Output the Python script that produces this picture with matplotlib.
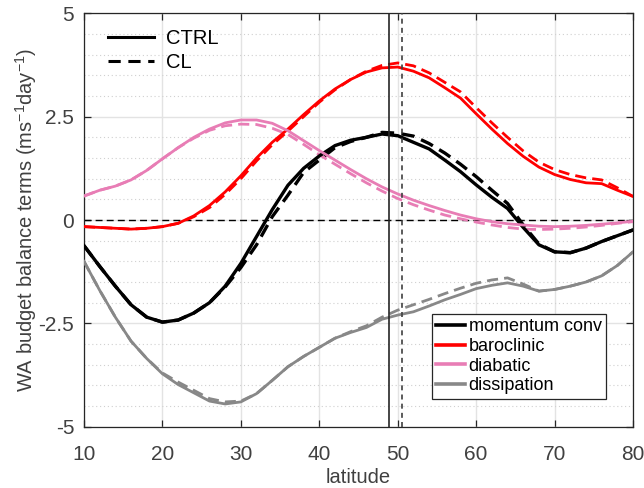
import numpy as np
import matplotlib
matplotlib.use("Agg")
import matplotlib.pyplot as plt
from matplotlib.lines import Line2D

plt.rcParams['font.family'] = ['Liberation Sans', 'DejaVu Sans']
plt.rcParams['mathtext.default'] = 'regular'

lat = np.arange(10, 81, 2)

mom_ctrl = [-0.62, -1.12, -1.6, -2.05, -2.35, -2.47, -2.42, -2.25, -2.0, -1.6,
            -1.05, -0.4, 0.25, 0.84, 1.25, 1.55, 1.8, 1.93, 2.0, 2.08,
            2.04, 1.88, 1.72, 1.45, 1.17, 0.85, 0.55, 0.28, -0.18, -0.6,
            -0.77, -0.79, -0.68, -0.52, -0.38, -0.24]
mom_cl = [-0.62, -1.12, -1.6, -2.05, -2.35, -2.47, -2.42, -2.25, -2.0, -1.62,
          -1.15, -0.6, 0.08, 0.6, 1.15, 1.45, 1.75, 1.9, 2.0, 2.12,
          2.1, 2.03, 1.85, 1.62, 1.35, 1.05, 0.72, 0.4, -0.12, -0.58,
          -0.77, -0.79, -0.68, -0.52, -0.38, -0.24]
baro_ctrl = [-0.16, -0.18, -0.2, -0.22, -0.2, -0.16, -0.08, 0.1, 0.35, 0.68,
             1.07, 1.5, 1.88, 2.2, 2.55, 2.88, 3.17, 3.4, 3.58, 3.68,
             3.7, 3.6, 3.44, 3.2, 2.95, 2.57, 2.2, 1.85, 1.54, 1.28,
             1.1, 0.98, 0.9, 0.88, 0.72, 0.57]
baro_cl = [-0.16, -0.18, -0.2, -0.22, -0.2, -0.16, -0.08, 0.08, 0.3, 0.62,
           1.0, 1.43, 1.82, 2.15, 2.5, 2.85, 3.15, 3.4, 3.6, 3.74,
           3.8, 3.73, 3.56, 3.33, 3.1, 2.72, 2.35, 2.0, 1.67, 1.4,
           1.22, 1.1, 1.02, 0.97, 0.78, 0.57]
diab_ctrl = [0.58, 0.72, 0.82, 0.97, 1.2, 1.48, 1.75, 2.0, 2.2, 2.35,
             2.42, 2.42, 2.34, 2.16, 1.92, 1.68, 1.45, 1.22, 1.0, 0.8,
             0.63, 0.48, 0.35, 0.23, 0.12, 0.03, -0.04, -0.09, -0.12, -0.15,
             -0.16, -0.15, -0.13, -0.1, -0.07, -0.03]
diab_cl = [0.58, 0.72, 0.82, 0.97, 1.2, 1.48, 1.75, 1.98, 2.17, 2.28,
           2.32, 2.31, 2.22, 2.07, 1.83, 1.58, 1.35, 1.12, 0.9, 0.7,
           0.52, 0.37, 0.24, 0.12, 0.03, -0.05, -0.12, -0.18, -0.22, -0.23,
           -0.22, -0.2, -0.17, -0.13, -0.08, -0.04]
diss_ctrl = [-1.0, -1.7, -2.35, -2.93, -3.35, -3.72, -3.98, -4.18, -4.38, -4.45,
             -4.4, -4.2, -3.88, -3.55, -3.3, -3.08, -2.86, -2.72, -2.6, -2.4,
             -2.3, -2.22, -2.08, -1.93, -1.8, -1.66, -1.58, -1.52, -1.6, -1.72,
             -1.68, -1.6, -1.5, -1.35, -1.1, -0.77]
diss_cl = [-1.0, -1.7, -2.35, -2.93, -3.35, -3.7, -3.92, -4.12, -4.32, -4.4,
           -4.38, -4.2, -3.88, -3.55, -3.3, -3.08, -2.86, -2.7, -2.56, -2.35,
           -2.18, -2.05, -1.92, -1.78, -1.65, -1.53, -1.45, -1.4, -1.55, -1.72,
           -1.68, -1.6, -1.5, -1.35, -1.1, -0.77]

ctrl_jet = 48.84
cl_jet = 50.5

names = ["momentum conv", "baroclinic", "diabatic", "dissipation"]
colours = ["black", "#ff0000", "#e87db5", "#888888"]
ctrl = [mom_ctrl, baro_ctrl, diab_ctrl, diss_ctrl]
cl = [mom_cl, baro_cl, diab_cl, diss_cl]
widths = [2.4, 2.0, 2.0, 2.0]

ytick_vals = [-5, -2.5, 0, 2.5, 5]
ytick_labels = ["-5", "-2.5", "0", "2.5", "5"]

txt = "#404040"
fig = plt.figure(figsize=(6.44, 4.88), dpi=100)
ax = fig.add_axes([0.1304, 0.1256, 0.8526, 0.8471])

ax.axhline(0, color="black", lw=1.0, ls=(0, (5, 3)), zorder=2)
for c, d, col, w in zip(ctrl, cl, colours, widths):
    ax.plot(lat, d, color=col, lw=w, ls=(0, (4, 2.2)), zorder=3)
    ax.plot(lat, c, color=col, lw=w, zorder=4)

ax.axvline(ctrl_jet, color="#262626", lw=1.2, zorder=5)
ax.axvline(cl_jet, color="#404040", lw=1.2, ls=(0, (3, 2.5)), zorder=5)

ax.set_xlim(10, 80)
ax.set_ylim(-5, 5)
ax.set_xticks(np.arange(10, 81, 10))
ax.set_yticks(ytick_vals)
ax.set_yticklabels(ytick_labels)
ax.set_yticks(np.arange(-5, 5.01, 0.5), minor=True)
ax.grid(True, which="major", color="#e3e3e3", lw=1.0, zorder=0)
ax.grid(True, which="minor", axis="y", color="#d0d0d0", lw=0.8, ls=(0, (1, 2.5)), zorder=0)
ax.set_axisbelow(True)
ax.tick_params(which="both", direction="in", top=True, right=True, labelsize=15,
               colors="#262626", labelcolor=txt, length=5, width=0.9)
ax.tick_params(axis="x", pad=13)
ax.tick_params(axis="y", pad=7)
ax.tick_params(which="minor", length=0)
for s in ax.spines.values():
    s.set_color("#262626")
    s.set_linewidth(0.9)

ax.set_xlabel("latitude", fontsize=14.5, color=txt)
ax.set_ylabel("WA budget balance terms (ms$^{-1}$day$^{-1}$)", fontsize=14.5, color=txt)
ax.xaxis.set_label_coords(0.5, -0.1)
ax.yaxis.set_label_coords(-0.082, 0.5)

h1 = [Line2D([], [], color="black", lw=2.2), Line2D([], [], color="black", lw=2.2, ls=(0, (4, 2.5)))]
leg1 = ax.legend(h1, ["CTRL", "CL"], loc="upper left", bbox_to_anchor=(0.01, 1.005), frameon=False,
                 fontsize=14.5, handlelength=2.3, handletextpad=0.6, labelspacing=0.25)
ax.add_artist(leg1)

h2 = [Line2D([], [], color=col, lw=2.6) for col in colours]
leg2 = ax.legend(h2, names, loc="lower right", bbox_to_anchor=(0.951, 0.067), fontsize=13,
                 handlelength=1.6, handletextpad=0.2, labelspacing=0.15, borderpad=0.25,
                 fancybox=False, framealpha=1, edgecolor="#262626", borderaxespad=0)
leg2.get_frame().set_linewidth(0.9)

fig.savefig("out.png", dpi=100)
